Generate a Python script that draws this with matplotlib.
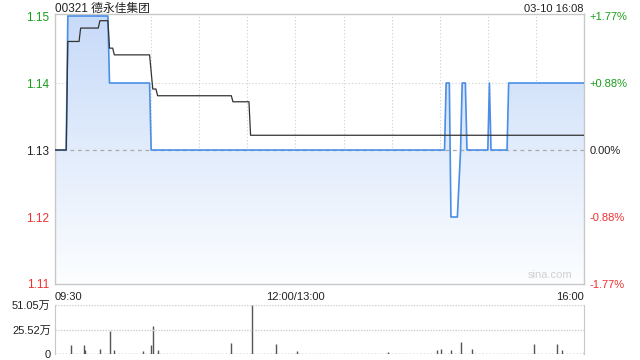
import numpy as np
import matplotlib
matplotlib.use('Agg')
import matplotlib.pyplot as plt

plt.rcParams['font.family'] = ['Liberation Sans', 'Noto Sans CJK SC', 'DejaVu Sans']

# --- 数据 ---
title = "00321 德永佳集团"
stamp = "03-10 16:08"
prev_close = 1.13

price_t = ["09:30", "09:37", "09:38", "10:03", "10:04", "10:29", "10:30",
           "14:33", "14:34", "14:36", "14:37", "14:41", "14:43", "14:44",
           "14:46", "14:47", "15:00", "15:01", "15:02", "15:12", "15:13", "16:00"]
price_v = [1.13, 1.13, 1.15, 1.15, 1.14, 1.14, 1.13,
           1.13, 1.14, 1.14, 1.12, 1.12, 1.13, 1.14,
           1.14, 1.13, 1.13, 1.14, 1.13, 1.13, 1.14, 1.14]

avg_t = ["09:30", "09:37", "09:38", "09:45", "09:46", "09:57", "09:58", "10:03",
         "10:04", "10:06", "10:07", "10:29", "10:31", "10:33", "10:34", "11:20",
         "11:21", "11:31", "11:32", "16:00"]
avg_v = [1.13, 1.13, 1.1462, 1.1462, 1.1482, 1.1482, 1.1493, 1.1493,
         1.1452, 1.1452, 1.1442, 1.1442, 1.1391, 1.1391, 1.1381, 1.1381,
         1.1372, 1.1372, 1.1322, 1.1322]

vol_t = ["09:40", "09:48", "09:49", "09:58", "10:04", "10:07", "10:25", "10:30",
         "10:31", "10:34", "11:20", "11:33", "11:48", "13:01", "13:58", "14:28",
         "14:31", "14:37", "14:43", "14:50", "15:29", "15:43", "15:46", "16:00"]
vol_v = [9.6, 9.6, 4.5, 5.5, 24.4, 4.5, 3.5, 9.6,
         29.3, 4.5, 11.4, 51.05, 10.4, 3.4, 2.0, 4.5,
         5.5, 4.5, 12.4, 5.5, 10.4, 10.4, 4.5, 2.0]  # 万

price_ticks = [1.11, 1.12, 1.13, 1.14, 1.15]
pct_labels = ["-1.77%", "-0.88%", "0.00%", "+0.88%", "+1.77%"]
vol_ticks = [0, 25.52, 51.05]
vol_labels = ["0", "25.52万", "51.05万"]


def to_idx(t):
    # 午休压缩：09:30-12:00 + 13:00-16:00
    h, m = map(int, t.split(':'))
    mins = h * 60 + m
    if mins <= 720:
        return mins - 570
    return mins - 780 + 150


px = [to_idx(t) for t in price_t]
ax_ = [to_idx(t) for t in avg_t]
vx = [to_idx(t) for t in vol_t]

GREEN = '#1a9e1a'
RED = '#f03030'
BORDER = '#c8c8c8'
GRID = '#cfcfcf'
BLUE = '#4a8ee6'

fig = plt.figure(figsize=(6.4, 3.6), dpi=100)
ax = fig.add_axes([55 / 640, 1 - 284 / 360, 529 / 640, 270 / 360])
axv = fig.add_axes([55 / 640, 1 - 354 / 360, 529 / 640, 49 / 360])

y0, y1 = 1.11, 1.1503
ax.set_xlim(0, 330)
ax.set_ylim(y0, y1)

# 渐变填充 (上深下浅)
poly = ax.fill_between(px, price_v, y0, color='none', lw=0)
top_c = np.array([0.78, 0.855, 0.975])
bot_c = np.array([0.99, 0.995, 1.0])
w = np.linspace(0, 1, 256)[:, None]
grad = (top_c * (1 - w) + bot_c * w)[:, None, :]
im = ax.imshow(grad, aspect='auto', extent=[0, 330, y0, y1], origin='upper',
               interpolation='bilinear', zorder=1)
im.set_clip_path(poly.get_paths()[0], transform=ax.transData)

for xv in range(30, 330, 30):
    ax.axvline(xv, color=GRID, lw=0.8, ls=(0, (1, 2)), zorder=0.5)
for yv in [1.12, 1.14]:
    ax.axhline(yv, color=GRID, lw=0.8, ls=(0, (1, 2)), zorder=0.5)
ax.axhline(prev_close, color='#aaaaaa', lw=0.9, ls=(0, (3, 3)), zorder=2)

ax.plot(px, price_v, color=BLUE, lw=1.2, zorder=3)
ax.plot(ax_, avg_v, color='#333333', lw=0.9, zorder=4)

for s in ax.spines.values():
    s.set_color(BORDER)
    s.set_linewidth(1)

ax.set_yticks(price_ticks)
ax.set_yticklabels([f"{v:.2f}" for v in price_ticks])
colors = [RED, RED, '#222222', GREEN, GREEN]
for lab, c in zip(ax.get_yticklabels(), colors):
    lab.set_color(c)
ax.tick_params(axis='y', length=0, labelsize=8.5, pad=4)
ax.set_xticks([])

axr = ax.twinx()
axr.set_ylim(y0, y1)
axr.set_yticks(price_ticks)
axr.set_yticklabels(pct_labels)
for lab, c in zip(axr.get_yticklabels(), colors):
    lab.set_color(c)
axr.tick_params(axis='y', length=0, labelsize=8, pad=4)
for s in axr.spines.values():
    s.set_visible(False)

# 时间标签
tx = ax.get_xaxis_transform()
ax.text(0, -0.03, "09:30", transform=tx, ha='left', va='top', fontsize=8, color='#222222')
ax.text(150, -0.03, "12:00/13:00", transform=tx, ha='center', va='top', fontsize=8, color='#222222')
ax.text(330, -0.03, "16:00", transform=tx, ha='right', va='top', fontsize=8, color='#222222')

ax.text(0, 1.0075, title, transform=ax.transAxes, ha='left', va='baseline', fontsize=8.5, color='#222222')
ax.text(1, 1.0075, stamp, transform=ax.transAxes, ha='right', va='baseline', fontsize=8, color='#222222')
ax.text(0.978, 0.015, "sina.com", transform=ax.transAxes, ha='right', va='bottom', fontsize=8, color='#d0d0d0')

# 成交量
axv.set_xlim(0, 330)
axv.set_ylim(0, 51.05)
axv.vlines(vx, 0, vol_v, color='#555555', lw=1)
axv.axhline(25.52, color=GRID, lw=1, ls=(0, (1, 1)))
axv.axhline(51.05, color=GRID, lw=1, ls=(0, (1, 1)))
axv.axhline(0, color='#777777', lw=1, ls=(0, (1, 1.5)))
for k in ['top', 'bottom']:
    axv.spines[k].set_visible(False)
axv.spines['left'].set_color(BORDER)
axv.spines['right'].set_color(BORDER)
axv.set_xticks([])
axv.set_yticks(vol_ticks)
axv.set_yticklabels(vol_labels)
axv.tick_params(axis='y', length=0, labelsize=8, pad=3, colors='#222222')

fig.savefig('out.png', dpi=100)
